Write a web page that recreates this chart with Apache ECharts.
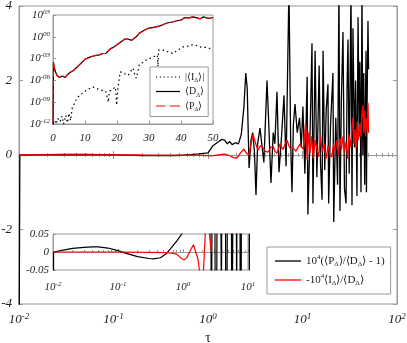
<!DOCTYPE html>
<html>
<head>
<meta charset="utf-8">
<script src="https://cdn.jsdelivr.net/npm/echarts@6/dist/echarts.min.js"></script>
<style>
html,body{margin:0;padding:0;background:#fff;}
#main{width:407px;height:343px;}
</style>
</head>
<body>
<div id="main"></div>
<script>
// 主图: 10^4(<P>/<D> - 1), 横轴 tau (对数)
var ratioPD = [
    [0.01, -6], [0.0102, 0], [0.015, 0.006], [0.02, 0.010], [0.03, 0.013], [0.04, 0.014], [0.05, 0.014],
    [0.07, 0.011], [0.1, 0.004], [0.13, -0.003], [0.2, -0.013], [0.3, -0.018], [0.35, -0.019],
    [0.45, -0.016], [0.55, -0.005], [0.65, 0.01], [0.8, 0.03], [1.0, 0.055],
    [1.12, 0.24], [1.3, 0.36], [1.4, 0.42], [1.5, 0.4], [1.6, 0.3], [1.7, 0.36], [1.8, 0.28],
    [1.95, 0.33], [2.1, 0.3], [2.25, 0.55], [2.4, 1.3], [2.51, 2.2], [2.6, 1.8], [2.72, -0.35],
    [2.85, 0.4], [2.97, 0.6], [3.1, 0.1], [3.22, -1.07], [3.35, 0.3], [3.55, 0.72], [3.7, 0.7],
    [3.9, -0.2], [4.21, 2.0], [4.4, 0.8], [4.64, -0.75], [4.9, 0.6], [5.1, 0.3], [5.37, 1.7],
    [5.64, -0.46], [6.0, 0.5], [6.37, 1.6], [6.7, -0.3], [7.19, 4.5], [7.5, 0.3], [7.74, -1.0],
    [8.0, 0.8], [8.33, 1.37], [8.8, 0.6], [9.3, 1.0], [9.7, 0.2], [10.1, 1.3], [10.6, -0.5],
    [11.2, 2.1], [11.4, -1.6], [12.0, 0.5], [12.6, 3.0], [12.9, -1.3], [13.6, 2.8], [14.2, -0.6],
    [15.0, 2.4], [15.5, -0.2], [16.1, -1.2], [16.5, 2.8], [17.2, -0.4], [17.8, 1.2], [18.6, 1.9],
    [18.9, -1.3], [19.8, 0.8], [21.0, 2.2], [21.4, -1.8], [22.5, 1.0], [23.5, -0.8], [24.3, 4.5],
    [24.9, -1.5], [25.8, 1.5], [26.8, 3.3], [27.8, -0.9], [28.9, -1.3], [29.6, 1.8], [30.3, 3.1],
    [31.2, -0.5], [32.6, 4.5], [33.4, -1.35], [34.2, 3.4], [35.5, 0.2], [36.5, 2.0], [37.7, -1.1],
    [38.7, 3.7], [39.8, 0.5], [40.5, 2.5], [41.6, -1.0], [42.6, 4.5], [43.5, 0.0], [44.5, 2.2],
    [45.5, -0.8], [47.0, 2.8], [47.5, -1.0], [48.2, 1.2], [49.3, 3.6], [50, 2.3]
];
// 主图: -10^4<I>/<D>
var ratioID = [
    [0.01, 0], [0.1, 0], [0.3, -0.001], [0.6, -0.002], [0.8, -0.006], [0.95, -0.018], [1.05, -0.022],
    [1.15, -0.015], [1.3, 0.005], [1.45, 0.02], [1.55, 0.015], [1.7, -0.02], [1.85, -0.07],
    [2.03, -0.08], [2.2, 0.05], [2.4, 0.16], [2.55, 0.05], [2.72, 0.0], [2.99, 0.56], [3.2, 0.3],
    [3.38, 0.13], [3.6, 0.25], [3.82, 0.19], [4.05, 0.1], [4.32, 0.08], [4.6, 0.2], [4.88, 0.24],
    [5.1, 0.1], [5.37, 0.05], [5.8, 0.3], [6.2, 0.15], [6.85, 0.4], [7.3, 0.2], [7.93, 0.2],
    [8.5, 0.1], [9.41, 0.3], [10.2, 0.15], [10.8, 0.86], [11.2, -0.13], [11.6, 0.6], [12.0, 0.05],
    [12.5, 0.5], [13.0, -0.1], [13.6, 0.4], [14.2, 0.35], [14.8, -0.05], [15.5, 0.5], [16.2, 0.1],
    [17.0, 0.3], [17.8, -0.1], [18.6, 0.25], [19.5, 0.0], [20.5, -0.05], [21.3, 0.3], [22.2, 0.1],
    [23.0, 0.4], [24.0, 0.0], [24.9, 0.45], [25.8, 0.15], [26.8, 0.5], [27.8, 0.1], [28.9, 0.35],
    [30.0, -0.1], [31.0, 0.55], [31.8, 0.6], [32.6, 0.2], [33.4, 0.8], [34.2, 1.0], [35.0, 0.3],
    [36.0, 0.7], [37.0, 0.2], [38.0, 0.9], [39.0, 0.4], [40.5, 0.86], [41.5, 0.5], [42.5, 1.1],
    [43.6, 1.35], [44.5, 0.6], [45.5, 1.2], [46.5, 0.5], [47.5, 1.0], [48.5, 0.7], [49.3, 1.4], [50, 0.6]
];

// 上方小图: |<I>|, <D>, <P> (纵轴对数)
var absI = [
    [0, 1e-12], [0.5, 3e-12], [1, 1e-12], [1.5, 6e-12], [2.2, 2e-12], [2.8, 1.2e-11], [3.3, 1e-12],
    [4, 1.5e-11], [4.5, 1.5e-12], [5, 3e-11], [5.5, 3e-12], [6, 1.5e-10], [7.5, 4e-9], [9, 1.5e-8],
    [10.6, 5e-8], [12.5, 1.2e-7], [14.7, 5e-8], [16.5, 3e-8], [17, 2e-8], [17.3, 1e-9], [17.6, 3e-8],
    [18.2, 5e-8], [19.5, 1.2e-7], [19.9, 4e-10], [20.3, 1e-7], [21, 1.5e-5], [22, 1e-5], [23.5, 5e-6],
    [25, 5e-5], [25.6, 5e-6], [26, 2e-6], [26.4, 1e-5], [27, 1.5e-4], [28, 3e-4], [29, 6e-4],
    [31, 1.5e-3], [32.6, 3e-3], [32.8, 8e-5], [33, 1.5e-2], [34.5, 1.5e-2], [36, 8e-3], [37.5, 5e-3],
    [39, 1.5e-2], [40.6, 4e-2], [42, 5e-2], [43.5, 8e-2], [45, 6e-2], [46, 4e-2], [47.5, 3.5e-2],
    [49, 2.5e-2], [50, 2.5e-2]
];
var meanD = [
    [0, 1e-13], [0.15, 3e-4], [0.6, 2.5e-5], [1.2, 5e-6], [2.0, 2.5e-6], [3.0, 4e-6], [3.8, 2.5e-6],
    [4.5, 6e-6], [5.3, 1.2e-5], [6.5, 2.5e-5], [8.4, 1.6e-4], [10.0, 8e-4], [11.5, 1.6e-3],
    [13.0, 2.5e-3], [14.5, 3.2e-3], [15.6, 5e-3], [16.5, 5e-3], [17.8, 2e-2], [19.0, 4e-2],
    [20.0, 8e-2], [21.5, 0.25], [22.5, 0.5], [23.5, 0.5], [24.5, 0.32], [26.0, 1], [27.0, 3.2],
    [28.5, 8], [30.0, 16], [31.5, 20], [33.4, 32], [34.5, 50], [35.6, 80], [37.0, 100], [38.8, 160],
    [40.0, 200], [41.0, 400], [42.5, 400], [43.8, 560], [45.0, 400], [46.0, 300], [47.0, 560],
    [48.0, 400], [49.0, 350], [50.0, 450]
];
var meanP = [
    [0, 1e-13], [0.15, 3e-4], [0.6, 2.5e-5], [1.2, 5e-6], [2.0, 2.5e-6], [3.0, 4e-6], [3.8, 2.5e-6],
    [4.5, 6e-6], [5.3, 1.2e-5], [6.5, 2.5e-5], [8.4, 1.6e-4], [10.0, 8e-4], [11.5, 1.6e-3],
    [13.0, 2.5e-3], [14.5, 3.2e-3], [15.6, 5e-3], [16.5, 5e-3], [17.8, 2e-2], [19.0, 4e-2],
    [20.0, 8e-2], [21.5, 0.25], [22.5, 0.5], [23.5, 0.5], [24.5, 0.32], [26.0, 1], [27.0, 3.2],
    [28.5, 8], [30.0, 16], [31.5, 20], [33.4, 32], [34.5, 50], [35.6, 80], [37.0, 100], [38.8, 160],
    [40.0, 200], [41.0, 400], [42.5, 400], [43.8, 560], [45.0, 400], [46.0, 300], [47.0, 560],
    [48.0, 400], [49.0, 350], [50.0, 450]
];

var legendMain = ['10^4(<P>/<D> - 1)', '-10^4<I>/<D>'];
var legendInset = ['|<I>|', '<D>', '<P>'];

var FONT = 'Liberation Serif';
var GRAY = '#999';

// 图例图标(实线/点线/虚线)
var ICON_SOLID = 'path://M0,0H26V1.3H0Z';
var ICON_DOT = 'path://M0,0H1.3V1.3H0Z M4,0H5.3V1.3H4Z M8,0H9.3V1.3H8Z M12,0H13.3V1.3H12Z M16,0H17.3V1.3H16Z M20,0H21.3V1.3H20Z M24,0H25.3V1.3H24Z';
var ICON_DASH = 'path://M0,0H10V1.3H0Z M15,0H26V1.3H15Z';

var richSup = function (size) {
    return {
        sup: {fontSize: size - 4, fontStyle: 'italic', fontFamily: FONT, color: '#222', verticalAlign: 'top', lineHeight: size + 2},
        base: {fontSize: size, fontStyle: 'italic', fontFamily: FONT, color: '#222', lineHeight: size + 2}
    };
};
function logLabel(v) {
    var e = Math.round(Math.log10(v));
    return '{base|10}{sup|' + e + '}';
}
function logLabel2(v) {
    var e = Math.round(Math.log10(v));
    var s = (e < 0 ? '-' : '') + (Math.abs(e) < 10 ? '0' : '') + Math.abs(e);
    return '{base|10}{sup|' + s + '}';
}

var legendRich = {
    t: {fontSize: 11, fontFamily: FONT, color: '#222', lineHeight: 14},
    sup: {fontSize: 7, fontFamily: FONT, color: '#222', verticalAlign: 'top', lineHeight: 14},
    sub: {fontSize: 7, fontFamily: FONT, color: '#222', verticalAlign: 'bottom', lineHeight: 14},
    s: {fontSize: 10, fontFamily: FONT, color: '#222', lineHeight: 13},
    ssub: {fontSize: 6, fontFamily: FONT, color: '#222', verticalAlign: 'bottom', lineHeight: 13}
};
var legendText = {};
legendText[legendMain[0]] = '{t|10}{sup|4}{t|(⟨P}{sub|Δ}{t|⟩/⟨D}{sub|Δ}{t|⟩ - 1)}';
legendText[legendMain[1]] = '{t|-10}{sup|4}{t|⟨I}{sub|Δ}{t|⟩/⟨D}{sub|Δ}{t|⟩}';
legendText[legendInset[0]] = '{s||⟨I}{ssub|Δ}{s|⟩|}';
legendText[legendInset[1]] = '{s|⟨D}{ssub|Δ}{s|⟩}';
legendText[legendInset[2]] = '{s|⟨P}{ssub|Δ}{s|⟩}';

var myChart = echarts.init(document.getElementById('main'));

var axisGray = {lineStyle: {color: GRAY, width: 1}};

var option = {
    backgroundColor: '#fff',
    animation: false,
    grid: [
        {left: 19, top: 6, width: 378, height: 298, show: true, borderColor: GRAY, borderWidth: 1, outerBoundsMode: 'none'},
        {left: 53, top: 15, width: 160, height: 109, show: true, borderColor: GRAY, borderWidth: 1, backgroundColor: '#fff', outerBoundsMode: 'none'},
        {left: 53, top: 234, width: 195, height: 36, show: true, borderColor: GRAY, borderWidth: 1, backgroundColor: '#fff', outerBoundsMode: 'none'}
    ],
    legend: [
        {
            data: [
                {name: legendMain[0], icon: ICON_SOLID},
                {name: legendMain[1], icon: ICON_SOLID}
            ],
            orient: 'vertical', left: 267, top: 247,
            padding: [7, 6, 7, 8], itemGap: 5, itemWidth: 26, itemHeight: 10, symbolKeepAspect: true,
            borderColor: GRAY, borderWidth: 1, backgroundColor: '#fff',
            formatter: function (n) { return legendText[n]; },
            textStyle: {rich: legendRich}
        },
        {
            data: [
                {name: legendInset[0], icon: ICON_DOT},
                {name: legendInset[1], icon: ICON_SOLID},
                {name: legendInset[2], icon: ICON_DASH}
            ],
            orient: 'vertical', left: 150, top: 67,
            padding: [5, 4, 4, 6], itemGap: 3, itemWidth: 24, itemHeight: 10, symbolKeepAspect: true,
            borderColor: GRAY, borderWidth: 1, backgroundColor: '#fff',
            formatter: function (n) { return legendText[n]; },
            textStyle: {rich: legendRich}
        }
    ],
    xAxis: [
        {
            type: 'log', gridIndex: 0, min: 0.01, max: 100, position: 'bottom',
            axisLine: axisGray, splitLine: {show: false},
            axisTick: {inside: true, length: 4, lineStyle: {color: GRAY}},
            minorTick: {show: true, splitNumber: 9, length: 2, lineStyle: {color: GRAY}},
            axisLabel: {formatter: logLabel, margin: 8, rich: richSup(13)},
            name: 'τ', nameLocation: 'middle', nameGap: 22,
            nameTextStyle: {fontFamily: FONT, fontSize: 14, color: '#222'}
        },
        {
            type: 'log', gridIndex: 0, min: 0.01, max: 100, position: 'top',
            axisLine: axisGray, splitLine: {show: false},
            axisTick: {inside: true, length: 4, lineStyle: {color: GRAY}},
            minorTick: {show: true, splitNumber: 9, length: 2, lineStyle: {color: GRAY}},
            axisLabel: {show: false}
        },
        {
            type: 'value', gridIndex: 1, min: 0, max: 50, interval: 10,
            axisLine: axisGray, splitLine: {show: false},
            axisTick: {inside: true, length: 3, lineStyle: {color: GRAY}},
            axisLabel: {margin: 9, fontFamily: FONT, fontStyle: 'italic', fontSize: 11, color: '#222'}
        },
        {
            type: 'log', gridIndex: 2, min: 0.01, max: 10,
            axisLine: axisGray, splitLine: {show: false},
            axisTick: {inside: true, length: 3, lineStyle: {color: GRAY}},
            minorTick: {show: true, splitNumber: 9, length: 2, lineStyle: {color: GRAY}},
            axisLabel: {formatter: logLabel, margin: 11, rich: richSup(11)}
        }
    ],
    yAxis: [
        {
            type: 'value', gridIndex: 0, min: -4, max: 4, interval: 2,
            axisLine: {show: true, lineStyle: {color: GRAY}}, splitLine: {show: false},
            axisTick: {show: true, inside: true, length: 4, lineStyle: {color: GRAY}},
            axisLabel: {margin: 7, fontFamily: FONT, fontStyle: 'italic', fontSize: 13, color: '#222'}
        },
        {
            type: 'value', gridIndex: 0, min: -4, max: 4, interval: 2, position: 'right',
            axisLine: {show: true, lineStyle: {color: GRAY}}, splitLine: {show: false},
            axisTick: {show: true, inside: true, length: 4, lineStyle: {color: GRAY}},
            axisLabel: {show: false}
        },
        {
            type: 'log', gridIndex: 1, min: 1e-12, max: 1e3, interval: 3,
            axisLine: {show: true, lineStyle: {color: GRAY}}, splitLine: {show: false},
            axisTick: {show: true, inside: true, length: 3, lineStyle: {color: GRAY}},
            axisLabel: {formatter: logLabel2, margin: 3, rich: richSup(11)}
        },
        {
            type: 'value', gridIndex: 2, min: -0.05, max: 0.05, interval: 0.05,
            axisLine: {show: true, lineStyle: {color: GRAY}}, splitLine: {show: false},
            axisTick: {show: true, inside: true, length: 3, lineStyle: {color: GRAY}},
            axisLabel: {margin: 4, fontFamily: FONT, fontStyle: 'italic', fontSize: 11, color: '#222'}
        }
    ],
    series: [
        {name: legendMain[0], type: 'line', xAxisIndex: 0, yAxisIndex: 0, data: ratioPD, showSymbol: false, symbol: 'none',
            lineStyle: {color: '#000', width: 1.3}, itemStyle: {color: '#000'}, clip: true},
        {name: legendMain[1], type: 'line', xAxisIndex: 0, yAxisIndex: 0, data: ratioID, showSymbol: false, symbol: 'none',
            lineStyle: {color: '#f00', width: 1.3}, itemStyle: {color: '#f00'}, clip: true},
        {name: legendInset[0], type: 'line', xAxisIndex: 2, yAxisIndex: 2, data: absI, showSymbol: false, symbol: 'none',
            lineStyle: {color: '#000', width: 1.2, type: [1.5, 3]}, itemStyle: {color: '#000'}, clip: true, z: 5},
        {name: legendInset[1], type: 'line', xAxisIndex: 2, yAxisIndex: 2, data: meanD, showSymbol: false, symbol: 'none',
            lineStyle: {color: '#000', width: 1.2}, itemStyle: {color: '#000'}, clip: true, z: 5},
        {name: legendInset[2], type: 'line', xAxisIndex: 2, yAxisIndex: 2, data: meanP, showSymbol: false, symbol: 'none',
            lineStyle: {color: '#f00', width: 1.2, type: [6, 3]}, itemStyle: {color: '#f00'}, clip: true, z: 6},
        {name: 'inset-pd', type: 'line', xAxisIndex: 3, yAxisIndex: 3, data: ratioPD, showSymbol: false, symbol: 'none',
            lineStyle: {color: '#000', width: 1.2}, clip: true, z: 5},
        {name: 'inset-id', type: 'line', xAxisIndex: 3, yAxisIndex: 3, data: ratioID, showSymbol: false, symbol: 'none',
            lineStyle: {color: '#f00', width: 1.2}, clip: true, z: 6}
    ]
};

myChart.setOption(option);
</script>
</body>
</html>
